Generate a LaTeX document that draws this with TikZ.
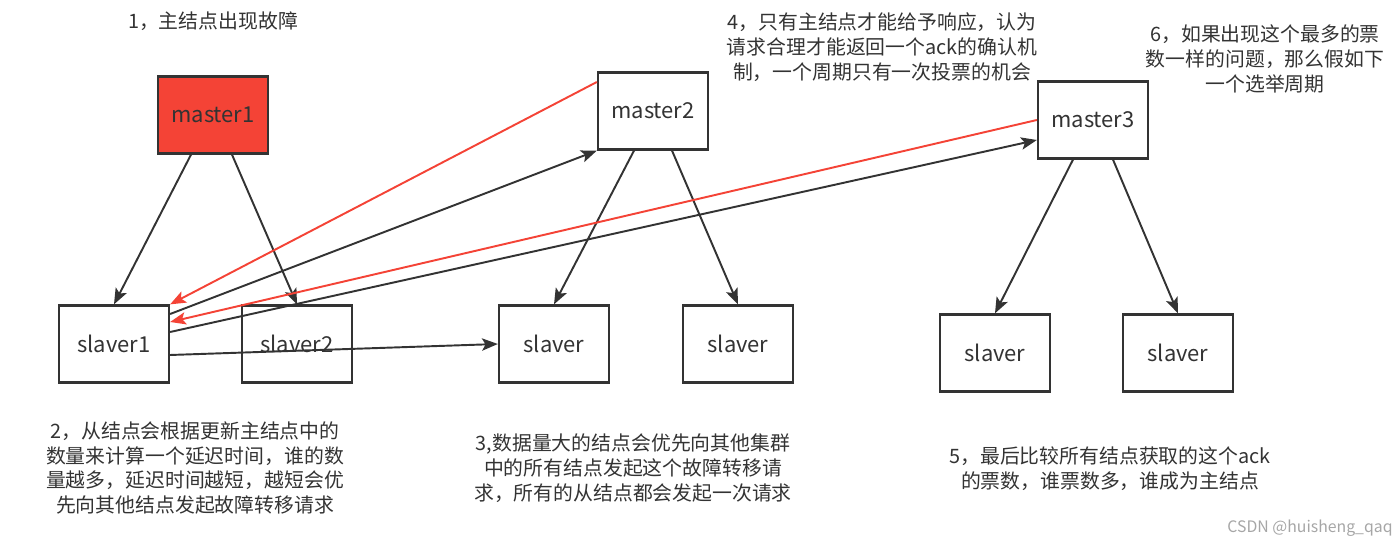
\documentclass[tikz,border=0pt]{standalone}
\usepackage{fontspec}
\setmainfont{Noto Sans CJK SC}
\usetikzlibrary{arrows.meta, calc}

\definecolor{failred}{RGB}{244,67,54}
\definecolor{inkgray}{RGB}{51,51,51}

\begin{document}
\begin{tikzpicture}[
    x=0.02cm, y=-0.02cm,
    box/.style={rectangle, draw=inkgray, line width=1.3pt, minimum width=2.2cm, minimum height=1.54cm, inner sep=0pt, text=inkgray, font=\fontsize{12.5}{15}\selectfont},
    failed/.style={box, fill=failred},
    note/.style={align=center, text=inkgray, inner sep=0pt, font=\fontsize{11.3}{14.2}\selectfont},
    arrow/.style={draw=inkgray, line width=1.1pt, -{Stealth[length=9pt,width=7pt,inset=2pt]}},
    vote/.style={arrow, draw=failred}
]
\useasboundingbox (0,0) rectangle (1400,546);

% Nodes
\node [failed] (master1) at (213,115) {master1};
\node [box] (master2) at (653,111) {master2};
\node [box] (master3) at (1093,120) {master3};
\node [box] (slaver1) at (114,344) {slaver1};
\node [box] (slaver2) at (297,344) {slaver2};
\node [box] (slaver3) at (554,344) {slaver};
\node [box] (slaver4) at (738,344) {slaver};
\node [box] (slaver5) at (995,353) {slaver};
\node [box] (slaver6) at (1178,353) {slaver};

% Notes
\node [note] (step1) at (213,21) {1，主结点出现故障};
\node [note] (step2) at (195,468) {2，从结点会根据更新主结点中的\\数量来计算一个延迟时间，谁的数\\量越多，延迟时间越短，越短会优\\先向其他结点发起故障转移请求};
\node [note] (step3) at (633,468) {3,数据量大的结点会优先向其他集群\\中的所有结点发起这个故障转移请\\求，所有的从结点都会发起一次请求};
\node [note] (step4) at (882,47) {4，只有主结点才能给予响应，认为\\请求合理才能返回一个ack的确认机\\制，一个周期只有一次投票的机会};
\node [note] (step5) at (1110,469) {5，最后比较所有结点获取的这个ack\\的票数，谁票数多，谁成为主结点};
\node [note] (step6) at (1265,59) {6，如果出现这个最多的票\\数一样的问题，那么假如下\\一个选举周期};
\node [note, text=gray!70, font=\fontsize{9}{11}\selectfont] (mark) at (1310,528) {CSDN @huisheng\_qaq};

% Connections
\draw [arrow] ($(master1.south)+(-22,0)$) -- (slaver1.north);
\draw [arrow] ($(master1.south)+(19,0)$) -- (slaver2.north);
\draw [arrow] ($(master2.south)+(-19,0)$) -- (slaver3.north);
\draw [arrow] ($(master2.south)+(19,0)$) -- (slaver4.north);
\draw [arrow] ($(master3.south)+(-20,0)$) -- (slaver5.north);
\draw [arrow] ($(master3.south)+(20,0)$) -- (slaver6.north);

\draw [vote] ($(master2.west)+(0,-29)$) -- (slaver1.north east);
\draw [arrow] ($(slaver1.east)+(0,-30)$) -- (master2.south west);
\draw [vote] (master3.west) -- ($(slaver1.east)+(0,-22)$);
\draw [arrow] ($(slaver1.east)+(0,-12)$) -- ($(master3.west)+(0,20)$);
\draw [arrow] ($(slaver1.east)+(0,11)$) -- (slaver3.west);
\end{tikzpicture}
\end{document}
